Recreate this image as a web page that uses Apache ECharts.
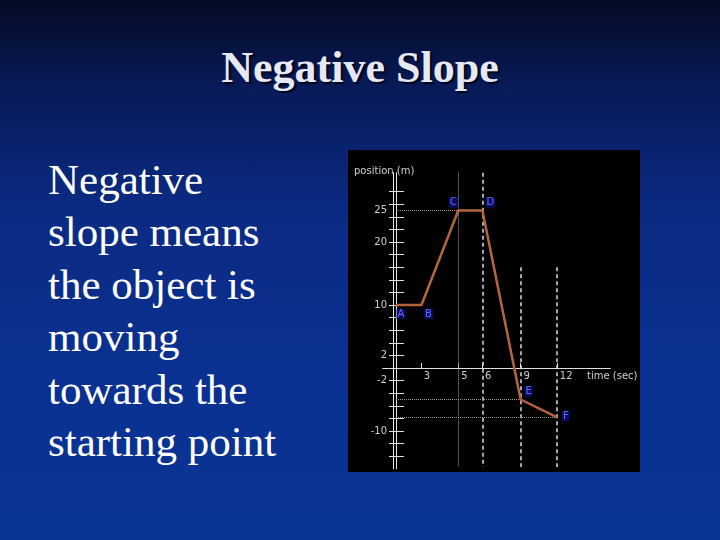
<!DOCTYPE html>
<html>
<head>
<meta charset="utf-8">
<script src="https://cdn.jsdelivr.net/npm/echarts@6/dist/echarts.min.js"></script>
<style>
  html, body { margin:0; padding:0; width:720px; height:540px; overflow:hidden; }
  body {
    position:relative;
    background: linear-gradient(180deg, #040a24 0%, #081a58 16%, #0b2a82 38%, #0a3192 70%, #0a3494 100%);
    font-family: "Liberation Serif", "DejaVu Serif", serif;
  }
  #title {
    position:absolute; left:0; top:42px; width:720px; text-align:center;
    font-size:44px; line-height:52px; font-weight:bold; color:#e6e8f6;
    text-shadow: 2px 2px 1px #00061a;
  }
  #body {
    position:absolute; left:48px; top:154px; width:290px;
    font-size:43px; line-height:52.4px; color:#ffffff;
  }
  #chart { position:absolute; left:348px; top:150px; width:292px; height:322px; background:#000; }
</style>
</head>
<body>
<div id="title">Negative Slope</div>
<div id="body">Negative<br>slope means<br>the object is<br>moving<br>towards the<br>starting point</div>
<div id="chart"></div>
<script>
// ---- data ----
const pointNames = ['A', 'B', 'C', 'D', 'E', 'F'];
const timeValues = [0, 1.9, 4.65, 6.45, 9.3, 12];      // seconds (axis position)
const positionValues = [10, 10, 25, 25, -5, -7.8];     // metres
const xTickValues = [1.85, 4.65, 6.42, 9.3, 12];
const xTickLabels = ['3', '5', '6', '9', '12'];
const yLabelValues = [25, 20, 10, 2, -2, -10];
const yTickValues = [-14, -12, -10, -8, -6, -4, -2, 2, 4, 6, 8, 10, 12, 14, 16, 18, 20, 22, 24, 26, 28];

// ---- styling (not data) ----
const xMin = -1, xMax = 16, yMin = -16, yMax = 31;
const gridBox = { left: 34.6, top: 22.7, width: 227.8, height: 296.1 };
const labelOffsets = [[5, 9], [7, 9], [-5, -8], [8, -8], [8, -8], [9, -1]];
const guideTop = 16;

// place the axes through the origin by offsetting them from the grid edges
const pxPerX = gridBox.width / (xMax - xMin);
const pxPerY = gridBox.height / (yMax - yMin);
const yAxisOffset = -(0 - xMin) * pxPerX;
const xAxisOffset = -(0 - yMin) * pxPerY;

const chart = echarts.init(document.getElementById('chart'));

const pts = timeValues.map((t, i) => [t, positionValues[i]]);
const lineData = pts.map((p, i) => ({
  value: p,
  label: {
    show: true,
    formatter: pointNames[i],
    position: 'inside',
    offset: labelOffsets[i],
    color: '#5d6dff',
    backgroundColor: '#0c0c60',
    padding: [0, 1],
    fontSize: 10,
    fontFamily: 'DejaVu Sans'
  }
}));

const iC = 2, iD = 3, iE = 4, iF = 5;
const dotGray = { color: '#9a9a9a', type: 'dotted', width: 1 };
const dashWhite = { color: '#dddddd', type: [4, 3], width: 1.5 };
const guides = [
  [{ coord: [pts[iC][0], yMax] }, { coord: [pts[iC][0], yMin + 0.3], lineStyle: dotGray }],
  [{ coord: [pts[iD][0], yMax] }, { coord: [pts[iD][0], yMin + 0.3], lineStyle: dashWhite }],
  [{ coord: [pts[iE][0], guideTop] }, { coord: [pts[iE][0], yMin + 0.3], lineStyle: dashWhite }],
  [{ coord: [pts[iF][0], guideTop] }, { coord: [pts[iF][0], yMin + 0.3], lineStyle: dashWhite }],
  [{ coord: [0, pts[iC][1]] }, { coord: [pts[iC][0], pts[iC][1]], lineStyle: dotGray }],
  [{ coord: [0, pts[iE][1]] }, { coord: [pts[iE][0], pts[iE][1]], lineStyle: dotGray }],
  [{ coord: [0, pts[iF][1]] }, { coord: [pts[iF][0], pts[iF][1]], lineStyle: dotGray }]
].map(pair => { pair[0].lineStyle = pair[1].lineStyle; return pair; });

const axisText = { color: '#cfcfcf', fontSize: 10, fontFamily: 'DejaVu Sans' };

chart.setOption({
  backgroundColor: '#000',
  animation: false,
  grid: Object.assign({ containLabel: false, outerBoundsMode: 'none' }, gridBox),
  xAxis: {
    type: 'value', min: xMin, max: xMax, position: 'bottom', offset: xAxisOffset,
    splitLine: { show: false },
    axisLine: { onZero: false, lineStyle: { color: '#e0e0e0', width: 1 } },
    axisTick: { show: true, inside: true, length: 5, customValues: xTickValues, lineStyle: { color: '#e0e0e0' } },
    axisLabel: Object.assign({
      customValues: xTickValues,
      align: 'left',
      padding: [0, 0, 0, 3],
      margin: 3,
      formatter: v => xTickLabels[xTickValues.indexOf(v)]
    }, axisText)
  },
  yAxis: {
    type: 'value', min: yMin, max: yMax, position: 'left', offset: yAxisOffset,
    splitLine: { show: false },
    axisLine: { onZero: false, lineStyle: { color: '#e8e8e8', width: 1, shadowColor: '#e8e8e8', shadowOffsetX: -3, shadowBlur: 0 } },
    axisTick: { show: true, length: 7, customValues: yTickValues,
      lineStyle: { color: '#e0e0e0', width: 1, shadowColor: '#e0e0e0', shadowOffsetX: 8, shadowBlur: 0 } },
    axisLabel: Object.assign({ customValues: yLabelValues, margin: 9 }, axisText)
  },
  graphic: [
    { type: 'text', left: 6, top: 16, style: { text: 'position (m)', fill: '#cfcfcf', font: '10px "DejaVu Sans"' } },
    { type: 'text', left: 239, top: 221, style: { text: 'time (sec)', fill: '#cfcfcf', font: '10px "DejaVu Sans"' } }
  ],
  series: [
    {
      type: 'line',
      data: [],
      silent: true,
      markLine: { symbol: 'none', silent: true, label: { show: false }, data: guides }
    },
    {
      type: 'line',
      data: lineData,
      symbol: 'circle',
      symbolSize: 1,
      showSymbol: true,
      itemStyle: { color: '#b5653d' },
      lineStyle: { color: '#b5653d', width: 2.5 },
      z: 5
    }
  ]
});
</script>
</body>
</html>
